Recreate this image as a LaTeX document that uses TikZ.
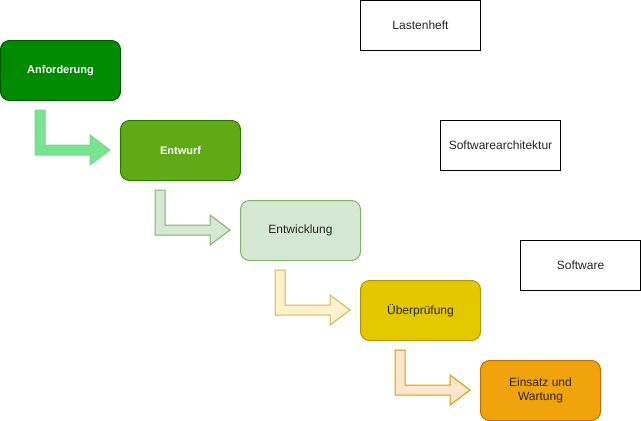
\documentclass[tikz,border=0pt]{standalone}
\usepackage{fontspec}
\setmainfont{Liberation Sans}
\begin{document}
\begin{tikzpicture}[x=1pt,y=-1pt,
  phase/.style={draw=#1, line width=1pt, rounded corners=9pt, minimum width=120pt, minimum height=60pt, inner sep=0pt, anchor=north west, font=\fontsize{12}{14}\selectfont, align=center},
  boldphase/.style={phase=#1, text=white, font=\fontsize{11}{13}\selectfont\bfseries},
  doc/.style={draw=black, line width=1pt, minimum width=120pt, minimum height=50pt, inner sep=0pt, anchor=north west, font=\fontsize{12}{14}\selectfont, text=black!85},
  bent/.style={line width=1pt}
]
\useasboundingbox (0,0) rectangle (641,421);
\definecolor{g1}{HTML}{008A00}\definecolor{g1s}{HTML}{005700}
\definecolor{g2}{HTML}{60A917}\definecolor{g2s}{HTML}{2D7600}
\definecolor{g3}{HTML}{D5E8D4}\definecolor{g3s}{HTML}{82B366}
\definecolor{y1}{HTML}{E3C800}\definecolor{y1s}{HTML}{B09500}
\definecolor{o1}{HTML}{F0A30A}\definecolor{o1s}{HTML}{BD7000}
\definecolor{a1}{HTML}{77E48F}\definecolor{a1s}{HTML}{82D58F}
\definecolor{a3}{HTML}{FFF2CC}\definecolor{a3s}{HTML}{D6B656}
\definecolor{a4}{HTML}{FFE6CC}\definecolor{a4s}{HTML}{D79B00}

\node[boldphase=g1s, fill=g1] (anf) at (0,40) {Anforderung};
\node[boldphase=g2s, fill=g2] (ent) at (120,120) {Entwurf};
\node[phase=g3s, fill=g3, text=black!85] (entw) at (240,200) {Entwicklung};
\node[phase=y1s, fill=y1, text=black!85] (ueb) at (360,280) {Überprüfung};
\node[phase=o1s, fill=o1, text=black!85] (eins) at (480,360) {Einsatz und\\Wartung};

\node[doc] (last) at (360,0) {Lastenheft};
\node[doc] (arch) at (440,120) {Softwarearchitektur};
\node[doc] (soft) at (520,240) {Software};

\newcommand{\bentarrow}[3]{%
  \draw[bent, draw=#3, fill=#2, shift={#1}] (35,70) -- (45,70) -- (45,105) -- (90,105) -- (90,95) -- (110,110) -- (90,125) -- (90,115) -- (35,115) -- cycle;}
\bentarrow{(anf.north west)}{a1}{a1s}
\bentarrow{(ent.north west)}{g3}{g3s}
\bentarrow{(entw.north west)}{a3}{a3s}
\bentarrow{(ueb.north west)}{a4}{a4s}
\end{tikzpicture}
\end{document}
